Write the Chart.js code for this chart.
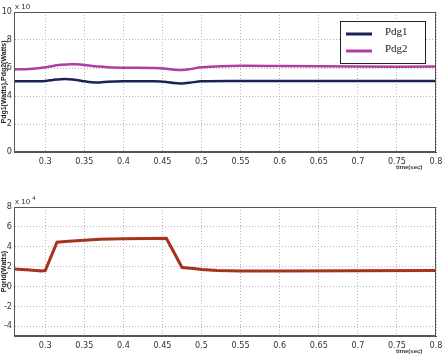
<!DOCTYPE html>
<html>
<head>
<meta charset="utf-8">
<script src="https://cdn.jsdelivr.net/npm/chart.js@4.4.1/dist/chart.umd.min.js"></script>
<style>
  html, body { margin: 0; padding: 0; background: #fff; }
  #wrap { position: relative; width: 447px; height: 364px; }
  #top { position: absolute; left: 0; top: 0; }
  #bot { position: absolute; left: 0; top: 180px; }
</style>
</head>
<body>
<div id="wrap">
  <canvas id="top" width="447" height="180"></canvas>
  <canvas id="bot" width="447" height="184"></canvas>
</div>
<script>
// ---- data ----
const xTicks = [0.3, 0.35, 0.4, 0.45, 0.5, 0.55, 0.6, 0.65, 0.7, 0.75, 0.8];

const tDg = [0.26, 0.28, 0.30, 0.31, 0.32, 0.33, 0.34, 0.35, 0.36, 0.37, 0.38, 0.40, 0.44, 0.455, 0.465, 0.475, 0.485, 0.50, 0.55, 0.60, 0.70, 0.80];
const pdg1 = [5.05, 5.05, 5.08, 5.15, 5.2, 5.2, 5.15, 5.05, 4.98, 4.97, 5.02, 5.05, 5.05, 5.0, 4.92, 4.9, 4.95, 5.05, 5.07, 5.07, 5.07, 5.07];
const pdg2 = [5.9, 5.92, 6.05, 6.15, 6.24, 6.26, 6.26, 6.22, 6.15, 6.1, 6.05, 6.02, 6.0, 5.95, 5.88, 5.86, 5.92, 6.05, 6.16, 6.14, 6.1, 6.1];

const tGrid = [0.26, 0.28, 0.295, 0.30, 0.315, 0.33, 0.35, 0.37, 0.40, 0.43, 0.455, 0.475, 0.49, 0.50, 0.52, 0.55, 0.60, 0.70, 0.80];
const pgrid = [1.75, 1.65, 1.55, 1.6, 4.45, 4.55, 4.65, 4.75, 4.8, 4.82, 4.85, 1.9, 1.8, 1.7, 1.6, 1.55, 1.55, 1.58, 1.6];
const pgridRef = [1.8, 1.7, 1.6, 1.6, 4.5, 4.55, 4.7, 4.75, 4.8, 4.85, 4.85, 1.95, 1.8, 1.75, 1.6, 1.55, 1.55, 1.55, 1.6];

const topYTicks = [0, 2, 4, 6, 8, 10];
const botYTicks = [-4, -2, 0, 2, 4, 6, 8];

const pts = (t, v) => t.map((x, i) => ({ x: x, y: v[i] }));
const tickFont = { family: "'Liberation Sans Narrow', 'DejaVu Sans Condensed', sans-serif", size: 9 };

// ---- shared axes ----
function xScale() {
  return {
    type: "linear", min: 0.26, max: 0.8,
    afterBuildTicks: s => { s.ticks = xTicks.map(v => ({ value: v })); },
    afterFit: s => { s.height = 28; },
    ticks: { font: tickFont, color: "#333", padding: 4, maxRotation: 0,
             callback: v => String(+v.toFixed(2)) },
    grid: { color: "#b5b5b5", drawTicks: false },
    border: { color: "#555", width: 1, dash: [1, 2] }
  };
}
function yScale(min, max, ticks, title) {
  return {
    min: min, max: max,
    afterBuildTicks: s => { s.ticks = ticks.map(v => ({ value: v })); },
    afterFit: s => { s.width = 14; },
    ticks: { font: tickFont, color: "#333", padding: 2, callback: v => String(v) },
    grid: { color: "#b5b5b5", drawTicks: false },
    border: { color: "#555", width: 1, dash: [1, 2] },
    title: { display: true, text: title, padding: 0, color: "#222",
             font: { family: "'Liberation Sans Narrow', sans-serif", size: 7, weight: "bold" } }
  };
}

// ---- extras: frame, multiplier, x label, legend ----
const extras = {
  id: "extras",
  afterDraw(chart, args, opts) {
    const { ctx, chartArea: a } = chart;
    ctx.save();
    ctx.strokeStyle = "#555";
    ctx.lineWidth = 1;
    ctx.strokeRect(a.left + 0.5, a.top + 0.5, a.right - a.left - 1, a.bottom - a.top - 1);
    ctx.fillStyle = "#333";
    ctx.font = "8px 'Liberation Sans Narrow', sans-serif";
    ctx.textBaseline = "alphabetic";
    ctx.fillText(opts.mult, a.left + 1, a.top - 3);
    ctx.font = "6px 'Liberation Sans Narrow', sans-serif";
    ctx.fillText(opts.sup, a.left + 1 + ctx.measureText("x 10").width + 6, a.top - 7);
    ctx.font = "bold 6px 'Liberation Sans Narrow', sans-serif";
    ctx.fillText("time(sec)", a.right - 40, a.bottom + 17);
    if (opts.legend) {
      const lx = 340, ly = 21, lw = 85, lh = 42;
      ctx.fillStyle = "#fff";
      ctx.fillRect(lx, ly, lw, lh);
      ctx.strokeStyle = "#222";
      ctx.strokeRect(lx + 0.5, ly + 0.5, lw, lh);
      ctx.font = "11px 'Liberation Serif', serif";
      ctx.textBaseline = "middle";
      chart.data.datasets.forEach((d, i) => {
        const yy = ly + 13 + i * 17;
        ctx.strokeStyle = d.borderColor;
        ctx.lineWidth = 3;
        ctx.beginPath(); ctx.moveTo(lx + 6, yy); ctx.lineTo(lx + 32, yy); ctx.stroke();
        ctx.fillStyle = "#222";
        ctx.fillText(d.label, lx + 45, yy - 2);
      });
    }
    ctx.restore();
  }
};

new Chart(document.getElementById("top"), {
  type: "line",
  data: {
    datasets: [
      { label: "Pdg1", data: pts(tDg, pdg1), borderColor: "#1b2258", borderWidth: 2.5, pointRadius: 0, tension: 0.3 },
      { label: "Pdg2", data: pts(tDg, pdg2), borderColor: "#b23ca6", borderWidth: 2.5, pointRadius: 0, tension: 0.3 }
    ]
  },
  options: {
    responsive: false, animation: false,
    layout: { padding: { top: 12, right: 11, left: 0, bottom: 0 } },
    scales: { x: xScale(), y: yScale(0, 10, topYTicks, "Pdg1(Watts),Pdg2(Watts)") },
    plugins: { legend: { display: false }, tooltip: { enabled: false },
               extras: { mult: "x 10", sup: "", legend: true } }
  },
  plugins: [extras]
});

new Chart(document.getElementById("bot"), {
  type: "line",
  data: {
    datasets: [
      { label: "Pgrid", data: pts(tGrid, pgrid), borderColor: "#a8321f", borderWidth: 3, pointRadius: 0, tension: 0 },
      { label: "Pgrid ref", data: pts(tGrid, pgridRef), borderColor: "#2a1a14", borderWidth: 1.2, borderDash: [3, 3], pointRadius: 0, tension: 0 }
    ]
  },
  options: {
    responsive: false, animation: false,
    layout: { padding: { top: 27, right: 11, left: 0, bottom: 0 } },
    scales: { x: xScale(), y: yScale(-5, 8, botYTicks, "Pgrid(Watts)") },
    plugins: { legend: { display: false }, tooltip: { enabled: false },
               extras: { mult: "x 10", sup: "4", legend: false } }
  },
  plugins: [extras]
});
</script>
</body>
</html>
